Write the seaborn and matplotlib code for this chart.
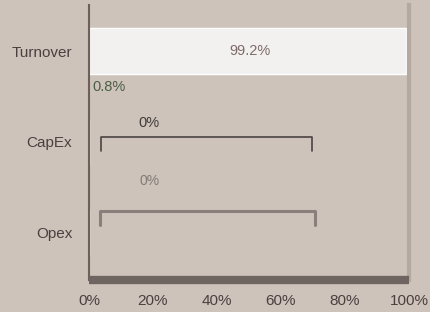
import matplotlib
matplotlib.use('Agg')
import matplotlib.pyplot as plt
import pandas as pd
import seaborn as sns

# chart data
categories = ['Turnover', 'CapEx', 'Opex']
shares = [99.2, 0.0, 0.0]
share_labels = ['99.2%', '0%', '0%']
remainder_share = 0.8
remainder_label = '0.8%'
bracket_start = [None, 3.7, 3.4]
bracket_end = [None, 69.7, 70.6]
xticks = [0, 20, 40, 60, 80, 100]
xtick_labels = ['0%', '20%', '40%', '60%', '80%', '100%']

bg = '#cdc3ba'
sns.set_theme(style='white')
plt.rcParams['font.family'] = ['Liberation Sans', 'DejaVu Sans']

df = pd.DataFrame({'category': categories, 'share': shares})

fig = plt.figure(figsize=(4.31, 3.12), dpi=100, facecolor=bg)
ax = fig.add_axes([89 / 431, 1 - 280 / 312, 320 / 431, 275 / 312])
ax.set_facecolor(bg)

sns.barplot(data=df, x='share', y='category', orient='h', color='#f3f1ef',
            width=0.51, saturation=1, ax=ax)

ax.set_xlim(0, 100)
ax.set_ylim(2.53, -0.51)

# value labels
ax.text(shares[0] / 2 + 0.6, 0, share_labels[0], ha='center', va='center',
        fontsize=10.5, color='#7d6b6b')
ax.text(remainder_share + 0.4, 0.40, remainder_label, ha='left', va='center',
        fontsize=10.5, color='#4a5e44')
ax.text(18.8, 1 - 0.21, share_labels[1], ha='center', va='center',
        fontsize=10.5, color='#3f3a38')
ax.text(18.8, 2 - 0.56, share_labels[2], ha='center', va='center',
        fontsize=10, color='#7a7270', alpha=0.9)

# brackets
ax.plot([bracket_start[1], bracket_start[1], bracket_end[1], bracket_end[1]],
        [1 + 0.10, 1 - 0.055, 1 - 0.055, 1 + 0.10],
        color='#4a4340', lw=1.2, solid_joinstyle='round')
ax.plot([bracket_start[2], bracket_start[2], bracket_end[2], bracket_end[2]],
        [2 - 0.08, 2 - 0.23, 2 - 0.23, 2 - 0.08],
        color='#8a807b', lw=2.2, solid_joinstyle='round')

ax.set_xticks(xticks)
ax.set_xticklabels(xtick_labels)
ax.set_xlabel('')
ax.set_ylabel('')
ax.tick_params(axis='x', length=0, pad=10, labelsize=11, labelcolor='#4a4040')
ax.tick_params(axis='y', length=0, pad=12, labelsize=11, labelcolor='#4a4040')

ax.spines['top'].set_visible(False)
ax.spines['left'].set_color('#6b605a')
ax.spines['left'].set_linewidth(1.5)
ax.spines['bottom'].set_color('#6e6560')
ax.spines['bottom'].set_linewidth(6)
ax.spines['bottom'].set_capstyle('butt')
ax.spines['right'].set_color('#b3a9a1')
ax.spines['right'].set_linewidth(3)

fig.savefig('out.png', dpi=100, facecolor=bg)
